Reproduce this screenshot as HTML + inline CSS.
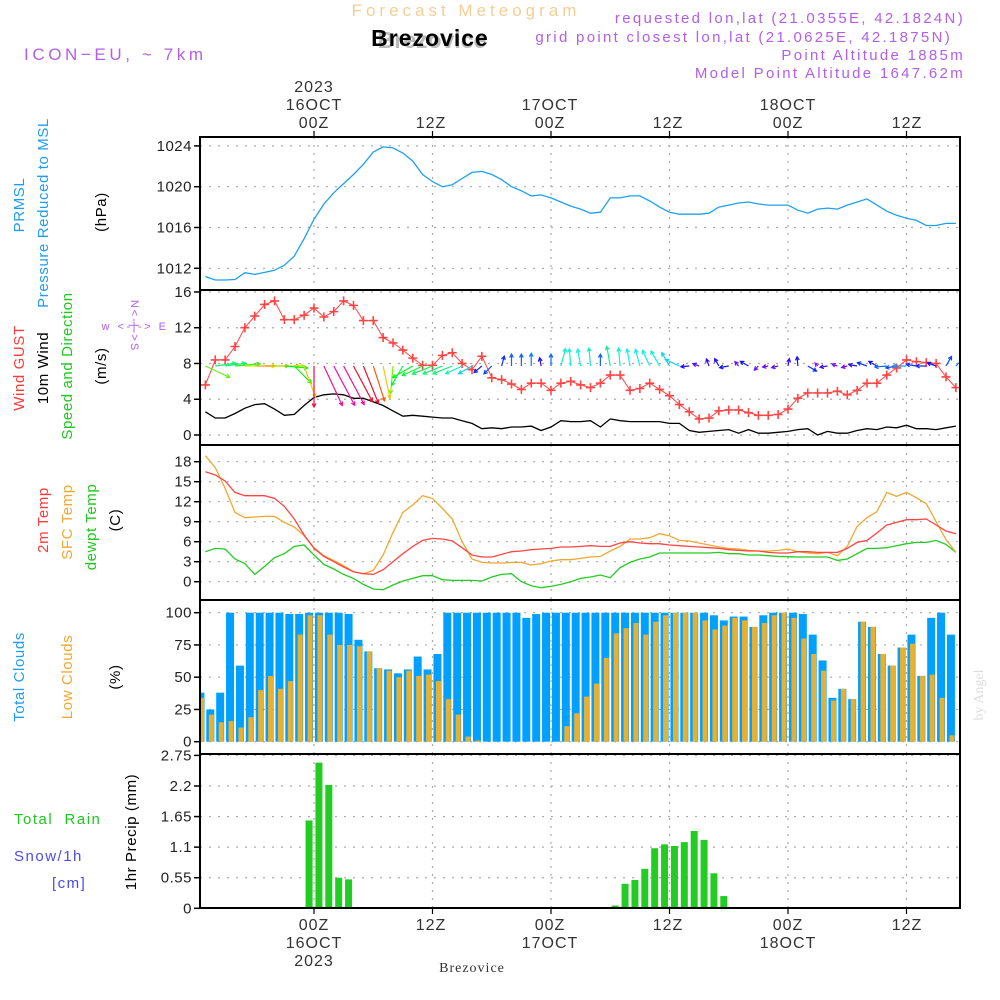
<!DOCTYPE html>
<html><head><meta charset="utf-8"><title>Meteogram Brezovice</title>
<style>
html,body{margin:0;padding:0;background:#fff;}
svg{display:block;}
text{font-family:"Liberation Sans",sans-serif;}
.tk{font-size:15px;fill:#222;text-anchor:end;letter-spacing:0.5px;}
.tx{font-size:16px;fill:#333;text-anchor:middle;letter-spacing:1px;}
.ttl{font-size:15px;letter-spacing:0.6px;text-anchor:middle;}
.hdr{font-size:15px;fill:#b35ee8;letter-spacing:2.3px;text-anchor:end;}
</style></head>
<body>
<svg id="chart" width="1000" height="1000" viewBox="0 0 1000 1000" xmlns="http://www.w3.org/2000/svg">
<text x="466" y="16" text-anchor="middle" style="font-size:17px;fill:#f3cf96;letter-spacing:4px">Forecast Meteogram</text>
<text x="432" y="48" text-anchor="middle" style="font-size:23px;font-weight:bold;fill:#bbb">Brezovice</text>
<text x="430" y="46" text-anchor="middle" style="font-size:23px;font-weight:bold;fill:#000;letter-spacing:1px">Brezovice</text>
<text x="24" y="60" style="font-size:17px;fill:#b35ee8;letter-spacing:3.6px">ICON−EU, ~ 7km</text>
<text x="965" y="23" class="hdr">requested lon,lat (21.0355E, 42.1824N)</text>
<text x="952" y="42" class="hdr">grid point closest lon,lat (21.0625E, 42.1875N)</text>
<text x="965" y="60" class="hdr">Point Altitude 1885m</text>
<text x="965" y="78" class="hdr">Model Point Altitude 1647.62m</text>

<g id="topaxis">
<text x="314" y="92" class="tx">2023</text>
<text x="314" y="110" class="tx">16OCT</text><text x="314" y="128" class="tx">00Z</text>
<text x="431" y="128" class="tx">12Z</text>
<text x="550" y="110" class="tx">17OCT</text><text x="550" y="128" class="tx">00Z</text>
<text x="668" y="128" class="tx">12Z</text>
<text x="788" y="110" class="tx">18OCT</text><text x="788" y="128" class="tx">00Z</text>
<text x="907" y="128" class="tx">12Z</text>
</g>
<g id="botaxis">
<text x="314" y="930" class="tx">00Z</text><text x="314" y="948" class="tx">16OCT</text><text x="314" y="966" class="tx">2023</text>
<text x="431" y="930" class="tx">12Z</text>
<text x="550" y="930" class="tx">00Z</text><text x="550" y="948" class="tx">17OCT</text>
<text x="668" y="930" class="tx">12Z</text>
<text x="788" y="930" class="tx">00Z</text><text x="788" y="948" class="tx">18OCT</text>
<text x="907" y="930" class="tx">12Z</text>
<text x="472" y="972" text-anchor="middle" style="font-size:14px;fill:#333;font-family:'Liberation Serif',serif;letter-spacing:1px">Brezovice</text>
</g>

<g>
<text class="ttl" transform="translate(24,205) rotate(-90)" fill="#1e9ef0">PRMSL</text>
<text class="ttl" transform="translate(48,213) rotate(-90)" fill="#1e9ef0">Pressure Reduced to MSL</text>
<text class="ttl" transform="translate(106,212) rotate(-90)" fill="#000">(hPa)</text>
</g>
<g>
<text class="ttl" transform="translate(24,368) rotate(-90)" fill="#ff3a3a">Wind GUST</text>
<text class="ttl" transform="translate(48,368) rotate(-90)" fill="#000">10m Wind</text>
<text class="ttl" transform="translate(72,366) rotate(-90)" fill="#1ec81e">Speed and Direction</text>
<text class="ttl" transform="translate(106,366) rotate(-90)" fill="#000">(m/s)</text>
<text x="135" y="330" text-anchor="middle" style="font-size:11px;fill:#b35ee8;letter-spacing:2.5px">w &lt;-|-&gt; E</text>
<text transform="translate(131,326) rotate(90)" text-anchor="middle" style="font-size:11px;fill:#b35ee8;letter-spacing:2px">N&lt;-|-&gt;S</text>
</g>
<g>
<text class="ttl" transform="translate(48,520) rotate(-90)" fill="#ff3a3a">2m Temp</text>
<text class="ttl" transform="translate(72,522) rotate(-90)" fill="#f0a830">SFC Temp</text>
<text class="ttl" transform="translate(96,527) rotate(-90)" fill="#1ec81e">dewpt Temp</text>
<text class="ttl" transform="translate(120,520) rotate(-90)" fill="#000">(C)</text>
</g>
<g>
<text class="ttl" transform="translate(24,677) rotate(-90)" fill="#1e9ef0">Total Clouds</text>
<text class="ttl" transform="translate(72,677) rotate(-90)" fill="#f0a830">Low Clouds</text>
<text class="ttl" transform="translate(120,677) rotate(-90)" fill="#000">(%)</text>
</g>
<g>
<text class="ttl" transform="translate(136,832) rotate(-90)" fill="#000">1hr Precip (mm)</text>
<text x="14" y="824" style="font-size:15px;fill:#1ec81e;letter-spacing:1.5px">Total&#160;&#160;Rain</text>
<text x="14" y="861" style="font-size:15px;fill:#4a4af0;letter-spacing:1.5px">Snow/1h</text>
<text x="52" y="888" style="font-size:15px;fill:#4a4af0;letter-spacing:1.5px">[cm]</text>
</g>
<text transform="translate(983,695) rotate(-90)" text-anchor="middle" style="font-size:14px;fill:#ddd;font-family:'Liberation Serif',serif">by Angel</text>

<g id="plots"></g>
</svg>
<script>
const hours = Array.from({length:77},(_,i)=>i-11);
const pressure = [1011.2,1010.85,1010.85,1010.9,1011.57,1011.4,1011.6,1011.8,1012.3,1013.2,1014.9,
1016.8,1018.3,1019.4,1020.3,1021.2,1022.2,1023.4,1023.9,1023.8,1023.3,
1022.5,1021.2,1020.5,1020.0,1020.2,1020.8,1021.4,1021.5,1021.2,1020.7,
1020.0,1019.6,1019.1,1019.2,1018.9,1018.5,1018.1,1017.8,1017.4,1017.5,
1018.9,1018.9,1019.1,1019.1,1018.6,1018.0,1017.5,1017.3,1017.3,1017.3,
1017.4,1018.0,1018.2,1018.4,1018.5,1018.3,1018.2,1018.2,1018.2,1017.7,
1017.4,1017.8,1017.9,1017.8,1018.2,1018.5,1018.8,1018.2,1017.6,1017.2,
1016.9,1016.7,1016.2,1016.2,1016.4,1016.4];
const gust = [5.6,8.4,8.4,9.9,12.0,13.3,14.6,15.0,12.9,12.9,13.4,
14.2,13.2,13.8,15.0,14.5,12.8,12.8,10.9,10.3,9.5,
8.6,7.8,7.8,8.9,9.2,8.0,7.3,8.8,6.4,6.2,
5.7,5.1,5.8,5.8,5.0,5.8,6.0,5.6,5.3,5.8,
6.7,6.7,5.0,5.2,5.8,5.1,4.4,3.4,2.6,1.8,
1.9,2.7,2.8,2.8,2.5,2.2,2.2,2.3,2.9,4.1,
4.7,4.7,4.7,4.9,4.5,5.0,5.8,5.8,6.7,7.5,
8.4,8.2,8.1,8.0,6.5,5.3];
const wind = [2.6,1.9,1.9,2.4,3.0,3.4,3.5,2.9,2.2,2.3,3.3,
4.2,4.5,4.6,4.5,4.1,4.1,3.7,3.3,2.7,2.1,
2.2,2.1,2.0,1.9,1.9,1.6,1.3,0.7,0.8,0.7,
0.9,0.9,1.0,0.5,0.9,1.6,1.5,1.5,1.6,0.9,
1.8,1.6,1.5,1.5,1.5,1.5,1.3,1.3,0.5,0.3,
0.4,0.5,0.6,0.2,0.6,0.2,0.2,0.3,0.4,0.6,
0.7,0.0,0.4,0.2,0.2,0.5,0.7,0.6,0.9,0.8,
1.1,0.7,0.7,0.6,0.8,1.0];
const windDir = [25,-8,-8,-5,0,0,0,0,5,45,70,
90,65,62,62,62,68,72,78,95,120,
150,155,158,158,158,155,150,140,135,-75,
-90,-90,-90,-100,-90,-75,-95,-100,-95,-90,
-100,-95,-100,-105,-115,-120,-120,-155,175,-160,
-110,-120,170,-130,-150,135,170,165,-80,-95,
30,-130,170,-160,165,-170,-160,-150,175,170,
180,-170,180,-160,-60,-45];
const t2m = [16.5,16.0,15.1,13.4,12.9,12.9,12.9,12.5,11.3,9.4,7.0,
5.0,3.8,3.0,2.2,1.5,1.2,1.1,1.8,3.0,4.2,
5.3,6.2,6.5,6.4,6.1,5.1,4.0,3.7,3.7,4.1,
4.5,4.6,4.8,4.9,5.0,5.2,5.2,5.3,5.4,5.3,
5.3,5.8,6.0,5.8,5.7,5.7,5.5,5.4,5.3,5.2,
5.1,5.0,4.8,4.7,4.6,4.6,4.4,4.3,4.3,4.5,
4.5,4.4,4.4,4.4,5.0,5.9,6.2,7.3,8.5,8.9,
9.3,9.3,9.4,8.5,7.6,7.2];
const tsfc = [18.9,17.1,14.0,10.4,9.6,9.7,9.8,9.8,8.9,8.2,6.9,
5.1,3.9,3.2,2.4,1.5,1.2,1.7,4.0,7.4,10.4,
11.5,12.9,12.5,11.0,9.4,6.0,3.4,2.9,2.8,2.8,
2.9,2.9,2.5,2.7,3.1,3.3,3.3,3.5,3.7,3.8,
4.6,5.3,6.4,6.4,6.6,7.2,6.9,6.2,6.1,5.8,
5.5,5.2,5.0,4.9,4.7,4.6,4.6,4.7,4.9,4.5,
4.3,4.2,4.4,3.9,5.3,8.3,9.6,10.5,13.4,12.8,
13.4,12.6,11.7,9.0,6.3,4.4];
const dewpt = [4.5,5.0,4.9,3.4,2.7,1.1,2.3,3.6,4.2,5.3,5.5,
4.0,2.6,1.9,1.1,0.5,-0.4,-1.1,-1.2,-0.5,0.1,
0.5,0.9,0.9,0.3,0.2,0.2,0.2,0.1,0.7,1.1,
1.2,0.0,-0.6,-0.9,-0.7,-0.4,0.0,0.5,0.7,1.0,
0.6,2.1,2.9,3.4,3.7,4.3,4.3,4.3,4.3,4.3,
4.3,4.4,4.2,4.2,4.0,4.0,3.9,3.8,3.75,3.7,
3.7,3.7,3.7,3.2,3.4,4.2,5.0,5.0,5.1,5.4,
5.7,5.9,5.9,6.2,5.6,4.4];
const totalClouds = [38,25,38,100,59,100,100,100,100,99,
99,100,100,100,100,99,79,70,57,56,
53,56,66,56,68,100,100,100,100,100,
100,100,100,96,99,100,100,100,100,100,
100,100,100,100,100,100,100,100,100,100,
100,100,98,94,97,97,89,98,100,100,
100,99,83,63,34,41,33,93,89,68,
59,73,83,51,96,100,83];
const lowClouds = [34,21,15,16,11,19,40,51,41,47,
83,98,98,83,75,75,74,70,57,55,
50,55,51,52,47,33,21,4,1,0,
0,0,0,0,0,0,0,12,22,35,
45,65,84,88,92,83,93,98,100,100,
100,94,87,90,96,94,89,92,98,100,
96,80,68,55,32,41,33,93,89,68,
59,73,76,51,52,34,5];
const precip = [0,0,0,0,0,0,0,0,0,0,0,
1.58,2.62,2.22,0.55,0.52,0,0,0,0,0,
0,0,0,0,0,0,0,0,0,0,
0,0,0,0,0,0,0,0,0,0,
0,0.05,0.44,0.51,0.71,1.08,1.15,1.12,1.19,1.39,
1.23,0.63,0.22,0.02,0,0,0,0,0,0,
0,0,0,0,0,0,0,0,0,0,
0,0,0,0,0,0];
const pTicks = [1012,1016,1020,1024];
const wTicks = [0,4,8,12,16];
const tTicks = [0,3,6,9,12,15,18];
const cTicks = [0,25,50,75,100];
const rTicks = [0,0.55,1.1,1.65,2.2,2.75];
const gridHours = [0,12,24,36,48,60];

const NS='http://www.w3.org/2000/svg';
const root=document.getElementById('plots');
function el(tag,attrs,parent){const e=document.createElementNS(NS,tag);for(const k in attrs)e.setAttribute(k,attrs[k]);(parent||root).appendChild(e);return e;}
const X0=200,X1=960;
const x=h=>314+h*9.875;
const panels=[
 {name:'pressure',top:137,bot:290,y:v=>268.3-(v-1012)*10.2,ticks:pTicks},
 {name:'wind',top:290,bot:445,y:v=>435-v*8.94,ticks:wTicks},
 {name:'temperature',top:445,bot:600,y:v=>581.7-v*6.667,ticks:tTicks},
 {name:'clouds',top:600,bot:754,y:v=>741.7-v*1.29,ticks:cTicks},
 {name:'precip',top:754,bot:908,y:v=>908.3-v*55.6,ticks:rTicks}
];
const defs=el('defs',{});
panels.forEach((p,i)=>{
 const cp=el('clipPath',{id:'clip'+i},defs);
 el('rect',{x:X0,y:p.top,width:X1-X0,height:p.bot-p.top},cp);
});
panels.forEach((p,i)=>{
 const g=el('g',{});
 
 
 p.ticks.forEach(t=>{
  const yy=p.y(t);
  const gl=el('line',{x1:X0,x2:X1,y1:yy,y2:yy,stroke:'#aaa','stroke-width':1.2,'stroke-dasharray':'2,7'},g);
  
  
  el('line',{x1:X0-6,x2:X0,y1:yy,y2:yy,stroke:'#000','stroke-width':1.5},g);
  const lb=el('text',{x:X0-8,y:yy+5,class:'tk'},g);
  lb.textContent=String(t);
  
  
 });
 gridHours.forEach(h=>{
  const vl=el('line',{x1:x(h),x2:x(h),y1:p.top,y2:p.bot,stroke:'#aaa','stroke-width':1.2,'stroke-dasharray':'2,6'},g);
  
  
 });
});
gridHours.forEach(h=>{
 el('line',{x1:x(h),x2:x(h),y1:131,y2:137,stroke:'#000','stroke-width':1.2});
 el('line',{x1:x(h),x2:x(h),y1:908,y2:914,stroke:'#000','stroke-width':1.2});
});
function line(p,idx,arr,color,name,w){
 const d=arr.map((v,i)=>(i?'L':'M')+x(hours[i]).toFixed(1)+','+p.y(v).toFixed(1)).join('');
 const pa=el('path',{d:d,fill:'none',stroke:color,'stroke-width':w||1.3,'clip-path':'url(#clip'+idx+')'});
 
 
 return pa;
}
line(panels[0],0,pressure,'#1ea0f0','pressure-line');
const pw=panels[1];
line(pw,1,wind,'#000','wind-speed-line');
line(pw,1,gust,'#ff4444','gust-line',1);
const gg=el('g',{'clip-path':'url(#clip1)'});


gust.forEach((v,i)=>{
 const cx=x(hours[i]),cy=pw.y(v);
 const m=el('path',{d:`M${cx-4.5},${cy}H${cx+4.5}M${cx},${cy-4.5}V${cy+4.5}`,stroke:'#ff4444','stroke-width':1.6},gg);
 
 
});
const ag=el('g',{'clip-path':'url(#clip1)'});


windDir.forEach((d,i)=>{
 const s=wind[i];
 const len=8.8*s+4;
 const a=d*Math.PI/180;
 const x1=x(hours[i]),y1=366;
 const x2=x1+len*Math.cos(a),y2=y1+len*Math.sin(a);
 let hue=(280-70*s);hue=((hue%360)+360)%360;
 const col=`hsl(${hue.toFixed(0)},90%,50%)`;
 const hl=4;
 const b1=a+Math.PI-0.5,b2=a+Math.PI+0.5;
 const pd=`M${x1},${y1}L${x2},${y2}M${x2+hl*Math.cos(b1)},${y2+hl*Math.sin(b1)}L${x2},${y2}L${x2+hl*Math.cos(b2)},${y2+hl*Math.sin(b2)}`;
 const ar=el('path',{d:pd,fill:'none',stroke:col,'stroke-width':1.2},ag);
 
 
});
const pt=panels[2];
line(pt,2,dewpt,'#22cc22','dewpoint-line');
line(pt,2,tsfc,'#eea830','sfc-temp-line');
line(pt,2,t2m,'#ff4444','t2m-line');
const pc=panels[3];
const cg=el('g',{'clip-path':'url(#clip3)'});


totalClouds.forEach((v,i)=>{
 const cx=x(hours[i]-0.5);
 const r=el('rect',{x:cx-4,y:pc.y(v),width:8,height:pc.y(0)-pc.y(v),fill:'#00a0ff'},cg);
 
 
});
lowClouds.forEach((v,i)=>{
 if(v<=0)return;
 const cx=x(hours[i]-0.5);
 const r=el('rect',{x:cx-1.5,y:pc.y(v),width:5,height:pc.y(0)-pc.y(v),fill:'#e8b030'},cg);
 
 
});
const pr=panels[4];
const rg=el('g',{'clip-path':'url(#clip4)'});


precip.forEach((v,i)=>{
 if(v<=0)return;
 const cx=x(hours[i]-0.5);
 const r=el('rect',{x:cx-3.5,y:pr.y(v),width:7,height:pr.y(0)-pr.y(v),fill:'#22cc22'},rg);
 
 
});
el('line',{x1:X0,x2:X1,y1:908,y2:908,stroke:'#000','stroke-width':2,'stroke-dasharray':'6,2'});
panels.forEach(p=>{
 const f=el('rect',{x:X0,y:p.top,width:X1-X0,height:p.bot-p.top,fill:'none',stroke:'#000','stroke-width':2});
 
 
});
</script>
</body></html>
